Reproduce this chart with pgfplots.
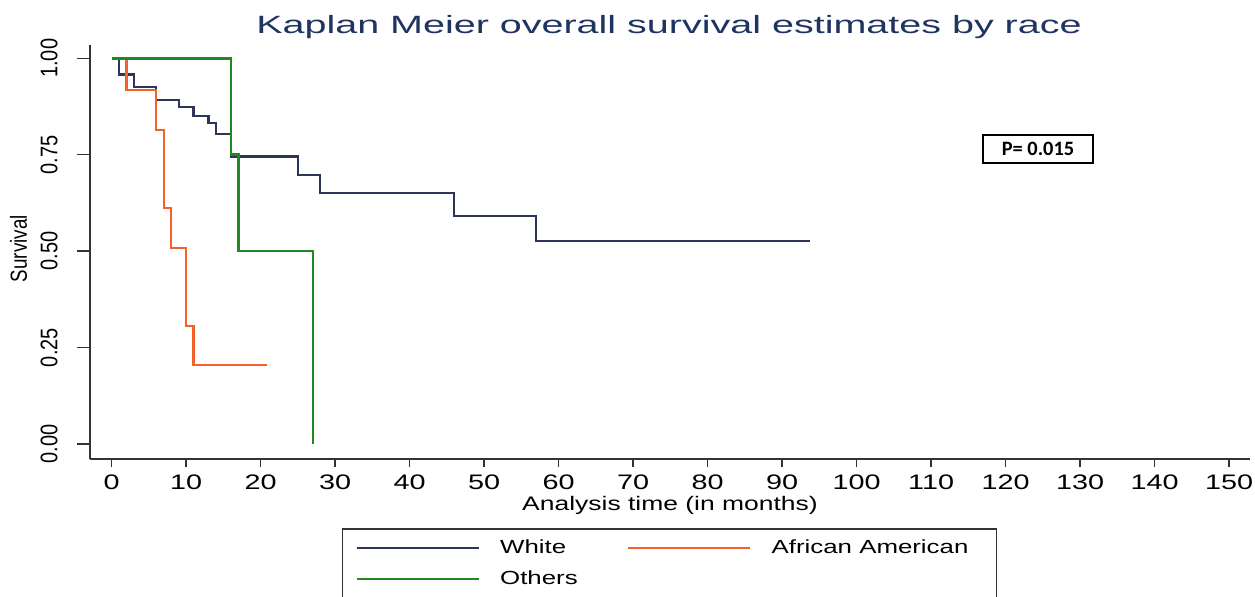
\documentclass[border=0pt]{standalone}
\usepackage{pgfplots}
\pgfplotsset{compat=1.18}
\usepackage{graphicx}
\usepackage{fontspec}
\setmainfont{Liberation Sans}
\newfontfamily\calibri{Carlito}
\definecolor{kmwhite}{HTML}{2D3658}
\definecolor{kmorange}{HTML}{F4622A}
\definecolor{kmgreen}{HTML}{228822}
\definecolor{titlenavy}{HTML}{1F3461}
\definecolor{axisgray}{HTML}{333333}
\begin{document}
\begin{tikzpicture}
\useasboundingbox (0,0) rectangle (627.5pt,298pt);
\begin{axis}[
  at={(45pt,68.5pt)}, anchor=south west,
  scale only axis, width=580pt, height=207pt,
  xmin=-2.9, xmax=152.8, ymin=-0.039, ymax=1.0345,
  axis lines*=left,
  axis line style={-, line width=0.75pt, color=axisgray},
  tick align=outside,
  major tick length=4pt,
  tick style={line width=0.75pt, color=axisgray},
  ytick style={/pgfplots/major tick length=6.5pt},
  xtick={0,10,...,150},
  ytick={0,0.25,0.5,0.75,1},
  minor tick num=0,
  /pgf/number format/assume math mode=true,
  xticklabel={\scalebox{1.37}[1]{\pgfmathprintnumber{\tick}}},
  yticklabel={\scalebox{1}[1.2]{\pgfmathprintnumber[fixed,fixed zerofill,precision=2]{\tick}}},
  xticklabel style={font=\fontsize{10.5}{12}\selectfont, inner sep=0pt, anchor=north},
  yticklabel style={font=\fontsize{10}{12}\selectfont, rotate=90, anchor=south, inner sep=0pt},
  xticklabel shift=3.5pt,
  yticklabel shift=12pt,
  xlabel={\scalebox{1.35}[1]{Analysis time (in months)}},
  xlabel style={font=\fontsize{9.8}{12}\selectfont, at={(axis description cs:0.5,-0.112)}, anchor=center, inner sep=0pt},
  ylabel={\scalebox{1}[1.24]{Survival}},
  ylabel style={font=\fontsize{9.4}{11}\selectfont, at={(axis description cs:-0.0616,0.508)}, anchor=center, inner sep=0pt},
  legend columns=2,
  legend cell align=left,
  legend image code/.code={%
    \path[draw=none, fill=none] (0pt,-7.75pt) rectangle (71.75pt,7.75pt);
    \draw[#1, line width=1pt] (0pt,0pt) -- (61pt,0pt);},
  legend style={at={(axis description cs:0.2172,-0.1667)}, anchor=north west,
    draw=axisgray, line width=0.75pt, inner xsep=6.5pt, inner ysep=2pt,
    font=\fontsize{9.5}{11}\selectfont,
    nodes={inner sep=0pt, anchor=west},
    row sep=0pt, column sep=0pt},
]
\addplot[const plot, color=kmwhite, line width=1.15pt] coordinates {
 (0,1) (1,0.958) (3,0.926) (6,0.892) (9,0.8745) (11,0.850) (13,0.8315)
 (14,0.803) (16,0.745) (25,0.697) (28,0.651) (46,0.591) (57,0.527) (93.7,0.527)};
\addlegendentry{\makebox[63.5pt][l]{\scalebox{1.36}[1]{White}}}
\addplot[const plot, color=kmorange, line width=1.15pt] coordinates {
 (0,1) (2,0.917) (6,0.815) (7,0.611) (8,0.509) (10,0.306) (11,0.204) (20.9,0.204)};
\addlegendentry{\makebox[106pt][l]{\scalebox{1.36}[1]{African American}}}
\addplot[const plot, color=kmgreen, line width=1.25pt] coordinates {
 (0,1) (16,0.75) (17,0.5) (27,0)};
\addlegendentry{\makebox[63.5pt][l]{\scalebox{1.36}[1]{Others}}}
\end{axis}
\node[anchor=base, font=\fontsize{12.5}{15}\selectfont, text=titlenavy] at (334.5pt,281pt)
  {\scalebox{1.58}[1]{Kaplan Meier overall survival estimates by race}};
\node[draw=black, line width=0.75pt, minimum width=55pt, minimum height=14pt, inner sep=0pt,
  font=\calibri\bfseries\fontsize{10.2}{12}\selectfont] at (519pt,223.5pt) {P= 0.015};
\end{tikzpicture}
\end{document}
